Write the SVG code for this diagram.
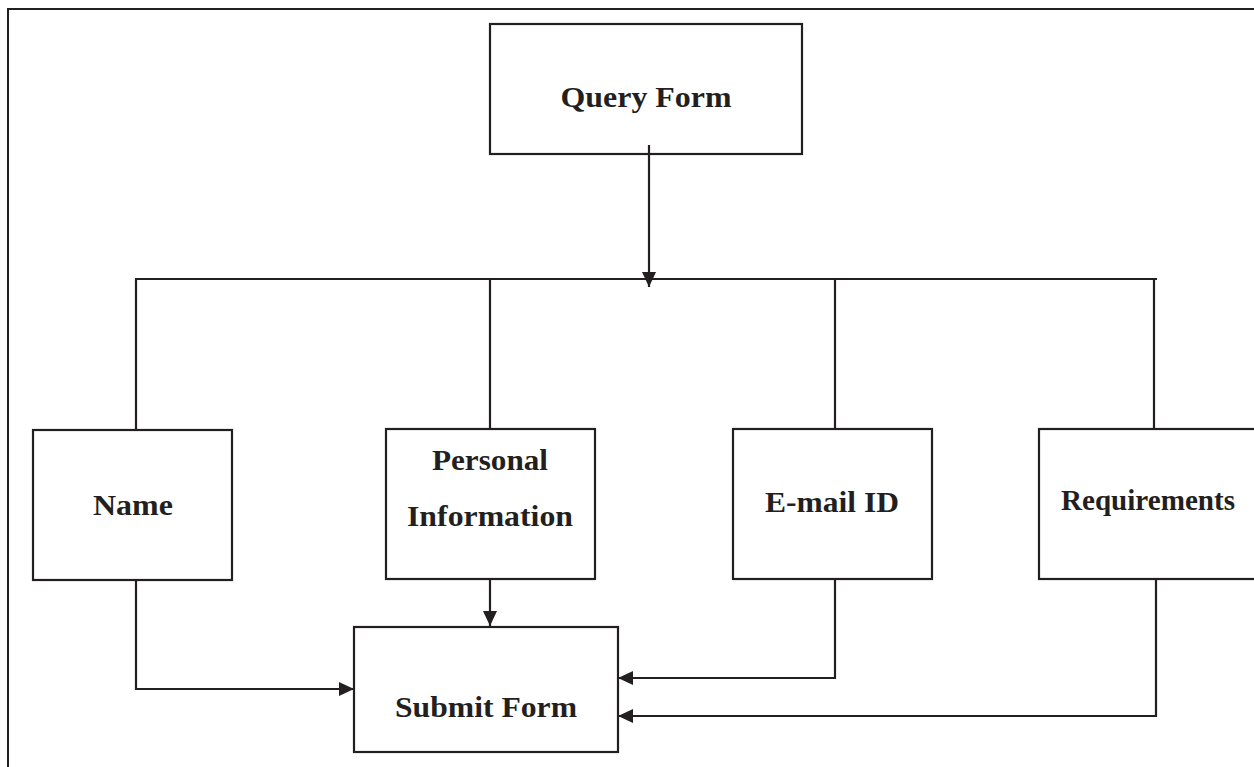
<svg xmlns="http://www.w3.org/2000/svg" width="1254" height="767" viewBox="0 0 1254 767">
  <style>
    .box { fill: #ffffff; stroke: #231f20; stroke-width: 2.2; }
    .wire { fill: none; stroke: #231f20; stroke-width: 2.2; }
    .frame { fill: none; stroke: #231f20; stroke-width: 2; }
    .label { font-family: "Liberation Serif", "Times New Roman", serif; font-weight: bold; font-size: 30px; fill: #231f20; text-anchor: middle; }
  </style>
  <defs>
    <marker id="arrow" viewBox="0 0 15 14" refX="15" refY="7" markerWidth="15" markerHeight="14" markerUnits="userSpaceOnUse" orient="auto">
      <path d="M0,0 L15,7 L0,14 Z" fill="#231f20"/>
    </marker>
  </defs>

  <rect width="1254" height="767" fill="#ffffff"/>

  <!-- page frame: top and left rules -->
  <path class="frame" d="M1254,9 H8 V767"/>

  <g id="query-form">
    <rect class="box" x="490" y="24" width="312" height="130"/>
    <text class="label" x="646" y="107" textLength="171" lengthAdjust="spacingAndGlyphs">Query Form</text>
  </g>

  <g id="name">
    <rect class="box" x="33" y="430" width="199" height="150"/>
    <text class="label" x="133" y="515" textLength="80" lengthAdjust="spacingAndGlyphs">Name</text>
  </g>

  <g id="personal-information">
    <rect class="box" x="386" y="429" width="209" height="150"/>
    <text class="label" x="490" y="470" textLength="116" lengthAdjust="spacingAndGlyphs">Personal</text>
    <text class="label" x="490" y="526" textLength="166" lengthAdjust="spacingAndGlyphs">Information</text>
  </g>

  <g id="email-id">
    <rect class="box" x="733" y="429" width="199" height="150"/>
    <text class="label" x="832" y="512" textLength="134" lengthAdjust="spacingAndGlyphs">E-mail ID</text>
  </g>

  <g id="requirements">
    <rect class="box" x="1039" y="429" width="230" height="150"/>
    <text class="label" x="1148" y="510" textLength="174" lengthAdjust="spacingAndGlyphs">Requirements</text>
  </g>

  <g id="submit-form">
    <rect class="box" x="354" y="627" width="264" height="125"/>
    <text class="label" x="486" y="717" textLength="182" lengthAdjust="spacingAndGlyphs">Submit Form</text>
  </g>

  <g id="connectors">
    <!-- query form down to the distribution bus -->
    <line class="wire" x1="649" y1="145" x2="649" y2="287" marker-end="url(#arrow)"/>
    <!-- distribution bus and drops to each field -->
    <line class="wire" x1="135" y1="279" x2="1157" y2="279"/>
    <line class="wire" x1="136" y1="279" x2="136" y2="430"/>
    <line class="wire" x1="490" y1="279" x2="490" y2="429"/>
    <line class="wire" x1="835" y1="279" x2="835" y2="429"/>
    <line class="wire" x1="1154" y1="279" x2="1154" y2="429"/>
    <!-- fields into submit form -->
    <polyline class="wire" points="136,580 136,689 354,689" marker-end="url(#arrow)"/>
    <line class="wire" x1="490" y1="579" x2="490" y2="626" marker-end="url(#arrow)"/>
    <polyline class="wire" points="835,579 835,678 618,678" marker-end="url(#arrow)"/>
    <polyline class="wire" points="1156,579 1156,716 618,716" marker-end="url(#arrow)"/>
  </g>
</svg>
